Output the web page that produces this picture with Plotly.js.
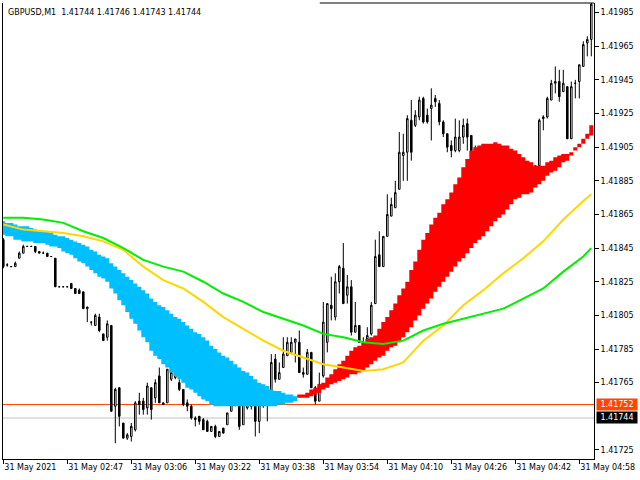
<!DOCTYPE html>
<html><head><meta charset="utf-8">
<script src="https://cdn.plot.ly/plotly-3.0.1.min.js"></script>
<style>html,body{margin:0;padding:0;background:#fff}#chart{width:640px;height:480px}</style>
</head><body><div id="chart"></div>
<script>
// ---- data (bar index = one M1 bar) ----
const symbolTitle = 'GBPUSD,M1  1.41744 1.41746 1.41743 1.41744';
const timeLabels = ['31 May 2021','31 May 02:47','31 May 03:06','31 May 03:22','31 May 03:38','31 May 03:54','31 May 04:10','31 May 04:26','31 May 04:42','31 May 04:58'];
const timeLabelBars = [0,16,32,48,64,80,96,112,128,144];
const priceTicks = [1.41725,1.41765,1.41785,1.41805,1.41825,1.41845,1.41865,1.41885,1.41905,1.41925,1.41945,1.41965,1.41985];
const askPrice = 1.41752;
const bidPrice = 1.41744;

const open = [1.41850,1.41835,1.41834,1.41834,1.41839,1.41842,1.41846,1.41846,1.41846,1.41843,
1.41842,1.41842,1.41840,1.41839,1.41822,1.41822,1.41822,1.41824,1.41821,1.41820,
1.41819,1.41809,1.41801,1.41799,1.41804,1.41794,1.41792,1.41799,1.41751,1.41762,
1.41741,1.41732,1.41733,1.41737,1.41754,1.41754,1.41750,1.41762,1.41756,1.41769,
1.41753,1.41753,1.41767,1.41768,1.41765,1.41761,1.41753,1.41751,1.41744,1.41745,
1.41743,1.41742,1.41736,1.41739,1.41733,1.41738,1.41740,1.41748,1.41752,1.41752,
1.41740,1.41750,1.41753,1.41751,1.41742,1.41752,1.41753,1.41759,1.41779,1.41767,
1.41774,1.41781,1.41783,1.41789,1.41789,1.41771,1.41770,1.41783,1.41762,1.41754,
1.41769,1.41789,1.41811,1.41804,1.41825,1.41833,1.41817,1.41822,1.41795,1.41799,
1.41789,1.41791,1.41794,1.41812,1.41841,1.41834,1.41852,1.41864,1.41869,1.41880,
1.41900,1.41902,1.41921,1.41918,1.41923,1.41934,1.41924,1.41928,1.41934,1.41931,
1.41920,1.41913,1.41906,1.41903,1.41903,1.41911,1.41919,1.41912,1.41903,1.41902,
1.41899,1.41900,1.41896,1.41897,1.41894,1.41896,1.41893,1.41894,1.41891,1.41893,
1.41890,1.41891,1.41889,1.41891,1.41894,1.41922,1.41923,1.41933,1.41943,1.41944,
1.41938,1.41941,1.41910,1.41943,1.41944,1.41953,1.41967,1.41969];
const high = [1.41851,1.41836,1.41834,1.41837,1.41843,1.41847,1.41846,1.41846,1.41846,1.41843,
1.41843,1.41842,1.41840,1.41839,1.41822,1.41822,1.41822,1.41824,1.41821,1.41821,
1.41819,1.41810,1.41801,1.41806,1.41806,1.41794,1.41802,1.41799,1.41762,1.41762,
1.41741,1.41735,1.41741,1.41754,1.41759,1.41756,1.41765,1.41762,1.41767,1.41774,
1.41753,1.41773,1.41774,1.41773,1.41767,1.41761,1.41755,1.41752,1.41745,1.41745,
1.41744,1.41743,1.41739,1.41740,1.41736,1.41738,1.41747,1.41752,1.41757,1.41755,
1.41755,1.41753,1.41755,1.41752,1.41752,1.41758,1.41759,1.41782,1.41782,1.41777,
1.41792,1.41792,1.41792,1.41791,1.41796,1.41774,1.41785,1.41783,1.41763,1.41771,
1.41813,1.41812,1.41828,1.41830,1.41835,1.41848,1.41829,1.41826,1.41813,1.41799,
1.41792,1.41798,1.41813,1.41850,1.41855,1.41852,1.41877,1.41875,1.41885,1.41914,
1.41913,1.41924,1.41933,1.41927,1.41935,1.41935,1.41928,1.41940,1.41936,1.41933,
1.41921,1.41913,1.41909,1.41922,1.41921,1.41922,1.41922,1.41912,1.41906,1.41905,
1.41903,1.41902,1.41900,1.41900,1.41899,1.41899,1.41897,1.41897,1.41896,1.41894,
1.41894,1.41893,1.41893,1.41894,1.41922,1.41924,1.41935,1.41945,1.41953,1.41951,
1.41951,1.41941,1.41944,1.41945,1.41954,1.41968,1.41971,1.41992];
const low = [1.41833,1.41834,1.41834,1.41834,1.41839,1.41842,1.41846,1.41846,1.41842,1.41842,
1.41842,1.41840,1.41840,1.41822,1.41822,1.41822,1.41822,1.41821,1.41818,1.41818,
1.41809,1.41801,1.41799,1.41799,1.41795,1.41790,1.41790,1.41748,1.41729,1.41739,
1.41732,1.41731,1.41730,1.41736,1.41746,1.41746,1.41746,1.41743,1.41753,1.41753,
1.41752,1.41753,1.41766,1.41767,1.41760,1.41751,1.41748,1.41743,1.41739,1.41740,
1.41737,1.41736,1.41736,1.41732,1.41733,1.41735,1.41740,1.41748,1.41751,1.41737,
1.41740,1.41749,1.41749,1.41733,1.41735,1.41750,1.41742,1.41759,1.41765,1.41767,
1.41774,1.41781,1.41783,1.41777,1.41771,1.41768,1.41770,1.41762,1.41752,1.41754,
1.41768,1.41783,1.41802,1.41802,1.41818,1.41812,1.41812,1.41793,1.41795,1.41789,
1.41786,1.41790,1.41793,1.41812,1.41834,1.41834,1.41852,1.41864,1.41869,1.41880,
1.41885,1.41885,1.41897,1.41917,1.41921,1.41919,1.41919,1.41909,1.41929,1.41918,
1.41911,1.41902,1.41899,1.41902,1.41902,1.41907,1.41903,1.41902,1.41897,1.41896,
1.41894,1.41893,1.41891,1.41890,1.41890,1.41888,1.41888,1.41887,1.41885,1.41884,
1.41885,1.41884,1.41885,1.41887,1.41893,1.41915,1.41922,1.41933,1.41937,1.41932,
1.41938,1.41910,1.41910,1.41934,1.41934,1.41953,1.41959,1.41959];
const close = [1.41834,1.41835,1.41834,1.41836,1.41842,1.41846,1.41846,1.41846,1.41843,1.41842,
1.41842,1.41840,1.41840,1.41822,1.41822,1.41822,1.41822,1.41821,1.41818,1.41818,
1.41809,1.41810,1.41801,1.41805,1.41796,1.41790,1.41800,1.41748,1.41761,1.41745,
1.41732,1.41734,1.41739,1.41753,1.41752,1.41749,1.41763,1.41749,1.41765,1.41753,
1.41752,1.41773,1.41771,1.41771,1.41761,1.41752,1.41751,1.41744,1.41743,1.41742,
1.41737,1.41736,1.41739,1.41733,1.41736,1.41735,1.41747,1.41752,1.41756,1.41739,
1.41752,1.41752,1.41751,1.41742,1.41752,1.41755,1.41752,1.41777,1.41767,1.41771,
1.41782,1.41789,1.41789,1.41791,1.41771,1.41770,1.41783,1.41762,1.41754,1.41764,
1.41801,1.41812,1.41809,1.41825,1.41834,1.41812,1.41822,1.41795,1.41799,1.41789,
1.41787,1.41793,1.41811,1.41840,1.41834,1.41852,1.41865,1.41871,1.41878,1.41902,
1.41902,1.41922,1.41902,1.41924,1.41933,1.41920,1.41920,1.41930,1.41932,1.41920,
1.41913,1.41905,1.41903,1.41911,1.41911,1.41918,1.41911,1.41903,1.41900,1.41899,
1.41900,1.41896,1.41897,1.41894,1.41896,1.41893,1.41894,1.41891,1.41893,1.41890,
1.41891,1.41889,1.41891,1.41894,1.41921,1.41923,1.41934,1.41943,1.41944,1.41935,
1.41943,1.41910,1.41941,1.41943,1.41954,1.41966,1.41969,1.41990];

// band indicator: falling (blue) bars 0..73, rising (red) bars 74..147
const blueStart = 0;
const blueHigh = [1.41861,1.41860,1.41860,1.41859,1.41858,1.41858,1.41858,1.41857,1.41856,1.41855,
1.41855,1.41855,1.41854,1.41853,1.41852,1.41852,1.41851,1.41850,1.41849,1.41848,
1.41847,1.41846,1.41844,1.41843,1.41841,1.41840,1.41839,1.41836,1.41834,1.41832,
1.41830,1.41828,1.41826,1.41824,1.41822,1.41820,1.41818,1.41815,1.41813,1.41811,
1.41810,1.41808,1.41806,1.41804,1.41803,1.41801,1.41799,1.41797,1.41795,1.41794,
1.41792,1.41790,1.41787,1.41785,1.41783,1.41781,1.41780,1.41778,1.41776,1.41774,
1.41772,1.41771,1.41769,1.41767,1.41765,1.41764,1.41763,1.41761,1.41760,1.41760,
1.41759,1.41758,1.41758,1.41757];
const blueLow = [1.41853,1.41852,1.41852,1.41850,1.41850,1.41849,1.41849,1.41849,1.41848,1.41848,
1.41848,1.41847,1.41846,1.41846,1.41845,1.41843,1.41842,1.41841,1.41839,1.41837,
1.41836,1.41834,1.41832,1.41830,1.41828,1.41827,1.41825,1.41821,1.41818,1.41814,
1.41811,1.41807,1.41803,1.41800,1.41796,1.41792,1.41789,1.41784,1.41781,1.41779,
1.41776,1.41774,1.41771,1.41769,1.41767,1.41765,1.41762,1.41761,1.41759,1.41757,
1.41755,1.41754,1.41752,1.41751,1.41751,1.41751,1.41751,1.41751,1.41751,1.41751,
1.41751,1.41751,1.41751,1.41751,1.41751,1.41751,1.41751,1.41751,1.41751,1.41752,
1.41752,1.41753,1.41753,1.41754];
const redStart = 74;
const redHigh = [1.41758,1.41758,1.41759,1.41761,1.41762,1.41764,1.41765,1.41768,1.41770,1.41773,
1.41776,1.41778,1.41781,1.41784,1.41786,1.41787,1.41789,1.41791,1.41792,1.41793,
1.41797,1.41801,1.41804,1.41808,1.41812,1.41817,1.41821,1.41825,1.41832,1.41837,
1.41844,1.41850,1.41854,1.41859,1.41863,1.41866,1.41871,1.41874,1.41878,1.41883,
1.41887,1.41893,1.41898,1.41903,1.41905,1.41906,1.41907,1.41907,1.41907,1.41908,
1.41907,1.41906,1.41906,1.41904,1.41903,1.41901,1.41899,1.41897,1.41896,1.41894,
1.41894,1.41894,1.41896,1.41897,1.41899,1.41900,1.41901,1.41901,1.41902,1.41905,
1.41907,1.41910,1.41913,1.41918];
const redLow = [1.41756,1.41756,1.41756,1.41757,1.41758,1.41759,1.41761,1.41762,1.41764,1.41765,
1.41766,1.41767,1.41768,1.41770,1.41770,1.41771,1.41772,1.41774,1.41776,1.41778,
1.41780,1.41781,1.41784,1.41786,1.41787,1.41789,1.41792,1.41795,1.41798,1.41802,
1.41805,1.41809,1.41812,1.41815,1.41819,1.41822,1.41825,1.41828,1.41831,1.41834,
1.41837,1.41839,1.41842,1.41845,1.41848,1.41850,1.41852,1.41855,1.41858,1.41861,
1.41863,1.41865,1.41868,1.41871,1.41874,1.41875,1.41877,1.41877,1.41878,1.41881,
1.41883,1.41885,1.41888,1.41890,1.41891,1.41893,1.41896,1.41897,1.41900,1.41903,
1.41905,1.41907,1.41910,1.41912];

// moving averages, sampled at these bars
const maBars = [0,5,10,15,20,25,30,35,40,45,50,55,60,65,70,75,80,85,90,95,100,105,110,115,120,125,130,135,140,145,147];
const maYellow = [1.41859,1.41856,1.41855,1.41854,1.41852,1.41849,1.41844,1.41834,1.41826,1.41821,1.41813,1.41804,1.41797,1.41790,1.41784,1.41780,1.41776,1.41774,1.41772,1.41773,1.41777,1.41790,1.41799,1.41811,1.41820,1.41830,1.41839,1.41849,1.41862,1.41873,1.41877];
const maGreen = [1.41863,1.41863,1.41862,1.41860,1.41855,1.41851,1.41845,1.41838,1.41834,1.41831,1.41825,1.41818,1.41813,1.41807,1.41803,1.41799,1.41794,1.41792,1.41789,1.41788,1.41790,1.41796,1.41800,1.41803,1.41806,1.41809,1.41815,1.41821,1.41831,1.41840,1.41845];

// ---- build ----
const FONT = 'DejaVu Sans, Liberation Sans, sans-serif';
const bars = open.map((_, i) => i);

function stepBand(start, vals) {
  // column per bar: step edges half a bar each side of the bar index
  const xs = [], ys = [];
  vals.forEach((v, k) => { xs.push(start + k - 0.5); ys.push(v); });
  xs.push(start + vals.length - 0.5); ys.push(vals[vals.length - 1]);
  return {xs, ys};
}
function bandTraces(start, hi, lo, color) {
  const a = stepBand(start, lo), b = stepBand(start, hi);
  return [
    {type:'scatter', mode:'lines', x:a.xs, y:a.ys, line:{width:0, shape:'hv'}, hoverinfo:'skip', showlegend:false},
    {type:'scatter', mode:'lines', x:b.xs, y:b.ys, line:{width:0, shape:'hv'}, fill:'tonexty', fillcolor:color, hoverinfo:'skip', showlegend:false}
  ];
}

const traces = [
  {type:'candlestick', x:bars, open, high, low, close,
   increasing:{line:{color:'#000000', width:1}, fillcolor:'#ffffff'},
   decreasing:{line:{color:'#000000', width:1}, fillcolor:'#000000'},
   whiskerwidth:0, hoverinfo:'skip', showlegend:false},
  ...bandTraces(blueStart, blueHigh, blueLow, '#00BFFF'),
  ...bandTraces(redStart, redHigh, redLow, '#FF0000'),
  {type:'scatter', mode:'lines', x:maBars, y:maYellow, line:{color:'#FFD700', width:2}, hoverinfo:'skip', showlegend:false},
  {type:'scatter', mode:'lines', x:maBars, y:maGreen, line:{color:'#00EE00', width:2}, hoverinfo:'skip', showlegend:false}
];

const layout = {
  width:640, height:480,
  margin:{l:3, r:46, t:3, b:21, pad:0},
  paper_bgcolor:'#ffffff', plot_bgcolor:'#ffffff',
  showlegend:false, hovermode:false, boxgap:0.45,
  font:{family:FONT, size:8, color:'#000000'},
  xaxis:{
    range:[-0.075, 147.675], rangeslider:{visible:false}, fixedrange:true,
    showgrid:false, zeroline:false, showline:true, linecolor:'#000000', linewidth:1,
    ticks:'outside', ticklen:4, tickcolor:'#000000', tickwidth:1,
    tickmode:'array', tickvals:timeLabelBars, ticktext:timeLabels,
    ticklabelposition:'outside right', tickfont:{family:FONT, size:8, color:'#000000'}
  },
  yaxis:{
    side:'right', range:[1.4171962, 1.4199072], fixedrange:true,
    showgrid:false, zeroline:false, showline:true, mirror:true, linecolor:'#000000', linewidth:1,
    ticks:'outside', ticklen:4, tickcolor:'#000000', tickwidth:1,
    tickmode:'array', tickvals:priceTicks, tickformat:'.5f',
    tickfont:{family:FONT, size:8, color:'#000000'}
  },
  shapes:[
    {type:'line', xref:'paper', yref:'y', x0:0, x1:1, y0:askPrice, y1:askPrice, line:{color:'#FF4500', width:1}, layer:'below'},
    {type:'line', xref:'paper', yref:'y', x0:0, x1:1, y0:bidPrice, y1:bidPrice, line:{color:'#C0C0C0', width:1}, layer:'below'},
    {type:'line', xref:'paper', yref:'paper', x0:0.536, x1:1, y0:1, y1:1, line:{color:'#000000', width:1}}
  ],
  annotations:[
    {xref:'paper', yref:'paper', x:0, y:1, xanchor:'left', yanchor:'top', xshift:3, yshift:-3,
     text:symbolTitle, showarrow:false, font:{family:FONT, size:8, color:'#000000'}},
    {xref:'paper', yref:'y', x:1, y:askPrice, xanchor:'left', yanchor:'middle', xshift:2,
     text:askPrice.toFixed(5), showarrow:false, bgcolor:'#FF4500', width:40, height:11, borderpad:0,
     font:{family:FONT, size:8, color:'#ffffff'}},
    {xref:'paper', yref:'y', x:1, y:bidPrice, xanchor:'left', yanchor:'middle', xshift:2,
     text:bidPrice.toFixed(5), showarrow:false, bgcolor:'#000000', width:40, height:11, borderpad:0,
     font:{family:FONT, size:8, color:'#ffffff'}}
  ]
};

Plotly.newPlot('chart', traces, layout, {displayModeBar:false, staticPlot:true});
</script>
</body></html>
